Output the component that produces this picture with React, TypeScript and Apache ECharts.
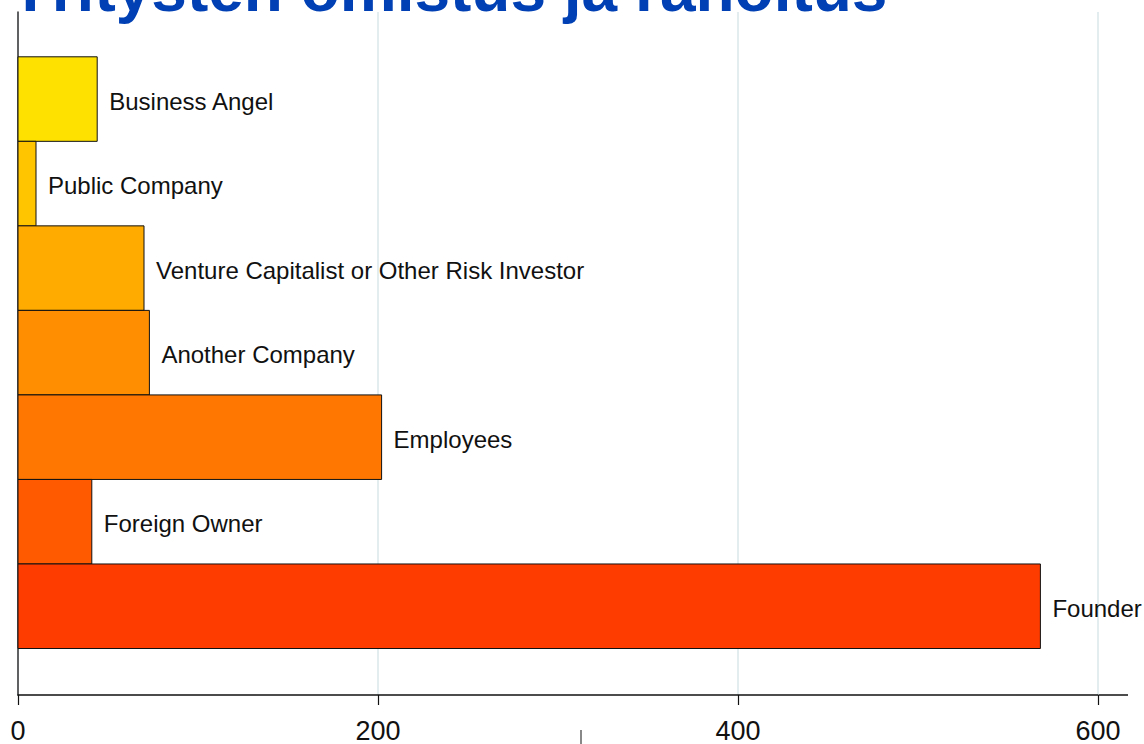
import React, { useEffect, useRef } from "react";
import * as echarts from "echarts";

const categories = [
  "Business Angel",
  "Public Company",
  "Venture Capitalist or Other Risk Investor",
  "Another Company",
  "Employees",
  "Foreign Owner",
  "Founder",
];
const values = [44, 10, 70, 73, 202, 41, 568];
const barColors = ["#FFE100", "#FFC600", "#FFAB00", "#FF8E00", "#FF7700", "#FF5A00", "#FF3C00"];
const xTicks = [0, 200, 400, 600];
const titleText = "Yritysten omistus ja rahoitus";

export default function App() {
  const ref = useRef<HTMLDivElement>(null);
  useEffect(() => {
    if (!ref.current) return;
    const chart = echarts.init(ref.current, undefined, { renderer: "svg" });
    const data = values.map((v, i) => [v, i]);
    chart.setOption({
      animation: false,
      backgroundColor: "#ffffff",
      grid: { left: 18, right: 46, top: 12, bottom: 49, containLabel: false },
      xAxis: {
        type: "value",
        min: xTicks[0],
        max: xTicks[xTicks.length - 1],
        interval: 200,
        axisLine: { show: true, onZero: false, lineStyle: { color: "#111", width: 1.5 } },
        axisTick: { show: true, length: 10, lineStyle: { color: "#111", width: 1.2 } },
        axisLabel: {
          color: "#111",
          fontSize: 27,
          fontFamily: "Liberation Sans Narrow, Liberation Sans, Arial",
          margin: 22,
        },
        splitLine: { show: true, lineStyle: { color: "#E3ECEE", width: 2 } },
      },
      yAxis: {
        type: "value",
        inverse: true,
        min: -1.03,
        max: 7.05,
        axisLine: { show: true, onZero: false, lineStyle: { color: "#333", width: 1.5 } },
        axisTick: { show: false },
        axisLabel: { show: false },
        splitLine: { show: false },
      },
      graphic: [
        {
          type: "text",
          x: 9,
          y: 21,
          z: 100,
          style: {
            text: titleText,
            fill: "#0040B4",
            font: "bold 64px 'Liberation Sans', Arial, sans-serif",
            verticalAlign: "bottom",
            align: "left",
          },
        },
        {
          type: "line",
          shape: { x1: 1098, y1: 695, x2: 1128, y2: 695 },
          style: { stroke: "#111", lineWidth: 1.5 },
        },
        {
          type: "line",
          shape: { x1: 581, y1: 730, x2: 581, y2: 744 },
          style: { stroke: "#888", lineWidth: 2 },
        },
      ],
      series: [
        {
          type: "custom",
          clip: false,
          encode: { x: 0, y: 1 },
          data,
          renderItem: (params: any, api: any) => {
            const v = api.value(0);
            const i = api.value(1);
            const p0 = api.coord([0, i - 0.5]);
            const p1 = api.coord([v, i + 0.5]);
            return {
              type: "group",
              children: [
                {
                  type: "rect",
                  shape: { x: p0[0], y: p0[1], width: p1[0] - p0[0], height: p1[1] - p0[1] },
                  style: { fill: barColors[i], stroke: "#111", lineWidth: 1 },
                },
                {
                  type: "text",
                  x: p1[0] + 12,
                  y: (p0[1] + p1[1]) / 2 + 2,
                  style: {
                    text: categories[i],
                    fill: "#111",
                    font: "24px 'Liberation Sans', Arial, sans-serif",
                    verticalAlign: "middle",
                    align: "left",
                  },
                },
              ],
            };
          },
        },
      ],
    });
    return () => chart.dispose();
  }, []);
  return (
    <div
      ref={ref}
      style={{ position: "absolute", left: 0, top: 0, width: 1144, height: 744 }}
    />
  );
}
